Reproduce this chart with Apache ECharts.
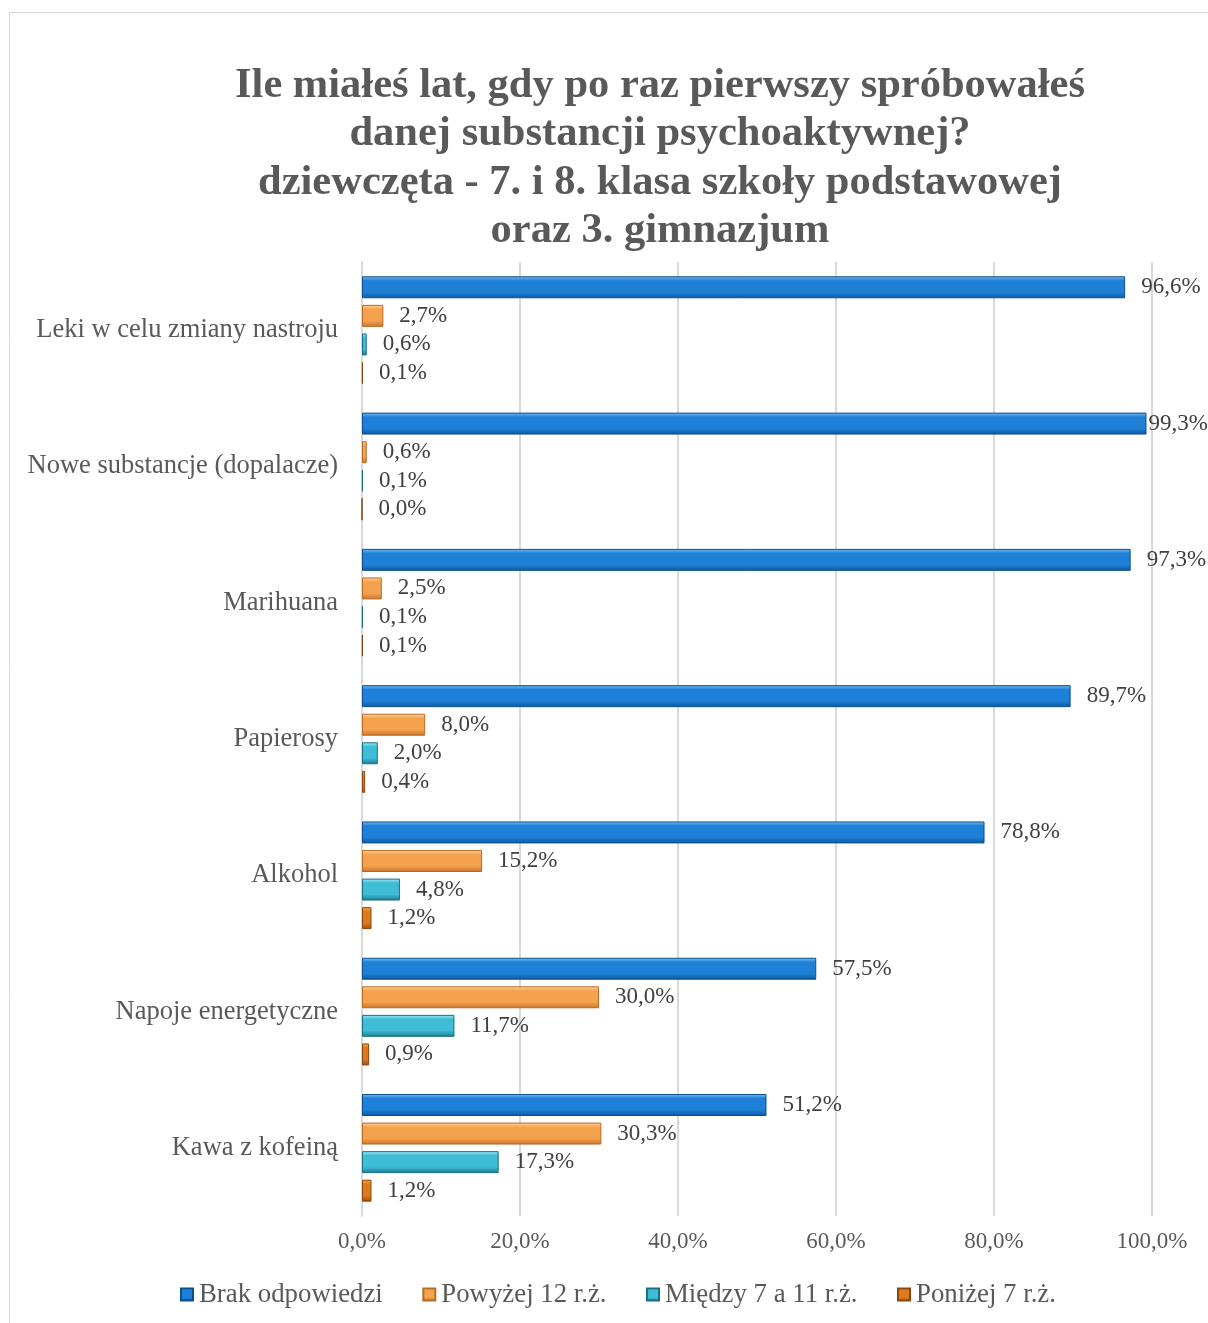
<!DOCTYPE html>
<html>
<head>
<meta charset="utf-8">
<script src="https://cdn.jsdelivr.net/npm/echarts@6/dist/echarts.min.js"></script>
<style>html,body{margin:0;padding:0;background:#fff}#c{width:1208px;height:1323px}</style>
</head>
<body>
<div id="c"></div>
<script>
const categories = ['Leki w celu zmiany nastroju','Nowe substancje (dopalacze)','Marihuana','Papierosy','Alkohol','Napoje energetyczne','Kawa z kofeiną'];
const seriesNames = ['Brak odpowiedzi','Powyżej 12 r.ż.','Między 7 a 11 r.ż.','Poniżej 7 r.ż.'];
const brak = [96.6, 99.3, 97.3, 89.7, 78.8, 57.5, 51.2];
const powyzej12 = [2.7, 0.6, 2.5, 8.0, 15.2, 30.0, 30.3];
const miedzy7_11 = [0.6, 0.1, 0.1, 2.0, 4.8, 11.7, 17.3];
const ponizej7 = [0.1, 0.0, 0.1, 0.4, 1.2, 0.9, 1.2];
const xTicks = [0, 20, 40, 60, 80, 100];
const titleLines = ['Ile miałeś lat, gdy po raz pierwszy spróbowałeś','danej substancji psychoaktywnej?','dziewczęta - 7. i 8. klasa szkoły podstawowej','oraz 3. gimnazjum'];

const serif = '"Liberation Serif","Times New Roman",serif';
function grad(top, mid, bot){
  return {type:'linear',x:0,y:0,x2:0,y2:1,colorStops:[
    {offset:0,color:top},{offset:0.2,color:mid},{offset:0.72,color:mid},{offset:1,color:bot}]};
}
const styles = [
  {c:grad('#7cc0f4','#1f80d8','#0b58a0'), b:'#0d4f8c'},
  {c:grad('#fdd9a2','#f5a24e','#c9732a'), b:'#b96a26'},
  {c:grad('#a6eef9','#3fbcd6','#1b7890'), b:'#1a6e84'},
  {c:grad('#f6b050','#dc7a1c','#9a4e0e'), b:'#8a460c'}
];
const data = [brak, powyzej12, miedzy7_11, ponizej7];
const fmt = v => v.toFixed(1).replace('.', ',') + '%';

const chart = echarts.init(document.getElementById('c'), null, {renderer:'canvas'});
chart.setOption({
  animation:false,
  backgroundColor:'#fff',
  graphic:[
    {type:'rect', shape:{x:9.5,y:12.5,width:1220,height:1330}, style:{fill:'none',stroke:'#d9d9d9',lineWidth:1}, silent:true},
    {type:'text', x:660, y:62, style:{text:titleLines.join('\n'), font:'bold 42.5px '+serif, fill:'#595959', align:'center', verticalAlign:'top', lineHeight:48.3}}
  ],
  legend:{
    bottom:10, left:175, itemWidth:12, itemHeight:12, itemGap:39.5,
    icon:'rect',
    textStyle:{fontFamily:serif,fontSize:26.8,color:'#595959',padding:[0,0,0,1]},
    data:seriesNames
  },
  grid:{left:362,right:56,top:262,bottom:107,containLabel:false},
  xAxis:{
    type:'value', min:0, max:100, interval:20,
    axisLine:{show:false}, axisTick:{show:false},
    splitLine:{lineStyle:{color:'#d9d9d9',width:2}},
    axisLabel:{fontFamily:serif,fontSize:23,color:'#595959',margin:14,formatter:v=>fmt(v)}
  },
  yAxis:{
    type:'category', inverse:true, data:categories,
    axisLine:{show:true,lineStyle:{color:'#d9d9d9',width:2}}, axisTick:{show:false},
    axisLabel:{fontFamily:serif,fontSize:26.5,color:'#595959',margin:24}
  },
  series: seriesNames.map((n,i)=>({
    name:n, type:'bar', barGap:'30%', barCategoryGap:'21%',
    data:data[i].map(v => v > 98 ? {value:v, label:{distance:2}} : v),
    itemStyle:{color:styles[i].c, borderColor:styles[i].b, borderWidth:1},
    label:{show:true,position:'right',distance:16,fontFamily:serif,fontSize:23,color:'#404040',formatter:p=>fmt(p.value)}
  }))
});
</script>
</body>
</html>
